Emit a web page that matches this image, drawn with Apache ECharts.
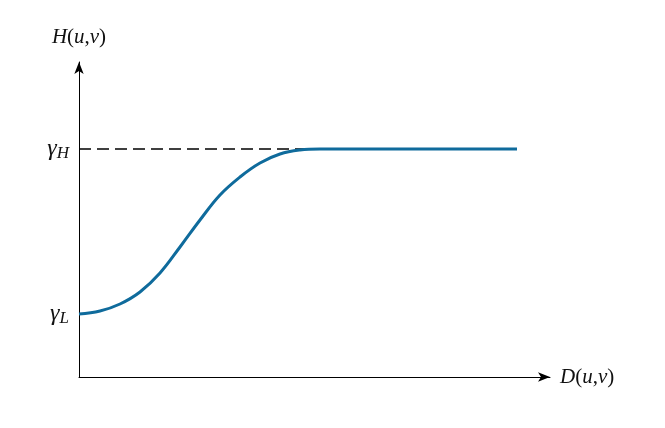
<!DOCTYPE html>
<html>
<head>
<meta charset="utf-8">
<script src="https://cdn.jsdelivr.net/npm/echarts@6/dist/echarts.min.js"></script>
<style>
  html, body { margin: 0; padding: 0; background: #fff; }
  #chart { width: 665px; height: 428px; }
</style>
</head>
<body>
<div id="chart"></div>
<script>
// curve (x: D(u,v), y: H(u,v))
var curveX = [0, 21, 41, 61, 81, 101, 121, 141, 161, 181, 201, 221, 241, 261, 438];
var curveY = [63, 66, 73, 85, 104, 130, 157, 182, 200, 214, 223, 227, 228, 228, 228];
var gammaL = 63;
var gammaH = 228;
var dashEnd = 236;

var serif = '"Liberation Serif", "DejaVu Serif", serif';

var chart = echarts.init(document.getElementById('chart'));

var curveData = curveX.map(function (x, i) { return [x, curveY[i]]; });

var option = {
    animation: false,
    grid: { left: 79, top: 62, right: 115, bottom: 51 },
    xAxis: {
        type: 'value',
        min: 0,
        max: 471,
        splitLine: { show: false },
        axisTick: { show: false },
        axisLabel: { show: false },
        axisLine: {
            onZero: false,
            lineStyle: { color: '#000', width: 1 },
            symbol: ['none', 'arrow'],
            symbolSize: [7, 12]
        },
        name: '{i|D}{r|(}{i|u}{r|,}{i|v}{r|)}',
        nameLocation: 'end',
        nameGap: 10,
        nameTextStyle: {
            rich: {
                i: { fontFamily: serif, fontStyle: 'italic', fontSize: 21, color: '#111' },
                r: { fontFamily: serif, fontSize: 21, color: '#111' }
            }
        }
    },
    yAxis: {
        type: 'value',
        min: 0,
        max: 315,
        splitLine: { show: false },
        axisTick: { show: false },
        axisLabel: {
            customValues: [gammaL, gammaH],
            margin: 10,
            formatter: function (v) {
                return v === gammaH ? '{g|γ}{s|H}' : '{g|γ}{s|L}';
            },
            rich: {
                g: { fontFamily: serif, fontStyle: 'italic', fontSize: 24, color: '#111' },
                s: { fontFamily: serif, fontStyle: 'italic', fontSize: 17, color: '#111', padding: [10, 0, 0, 0] }
            }
        },
        axisLine: {
            onZero: false,
            lineStyle: { color: '#000', width: 1 },
            symbol: ['none', 'arrow'],
            symbolSize: [7, 12]
        },
        name: '{i|H}{r|(}{i|u}{r|,}{i|v}{r|)}',
        nameLocation: 'end',
        nameGap: 14,
        nameTextStyle: {
            align: 'center',
            rich: {
                i: { fontFamily: serif, fontStyle: 'italic', fontSize: 21, color: '#111' },
                r: { fontFamily: serif, fontSize: 21, color: '#111' }
            }
        }
    },
    series: [
        {
            type: 'line',
            data: [[0, gammaH], [dashEnd, gammaH]],
            showSymbol: false,
            silent: true,
            lineStyle: { color: '#000', width: 1.4, type: [12, 6] },
            z: 1
        },
        {
            type: 'line',
            data: curveData,
            smooth: 0.4,
            showSymbol: false,
            lineStyle: { color: '#0f6b9c', width: 3 },
            z: 2
        }
    ]
};

chart.setOption(option);
</script>
</body>
</html>
